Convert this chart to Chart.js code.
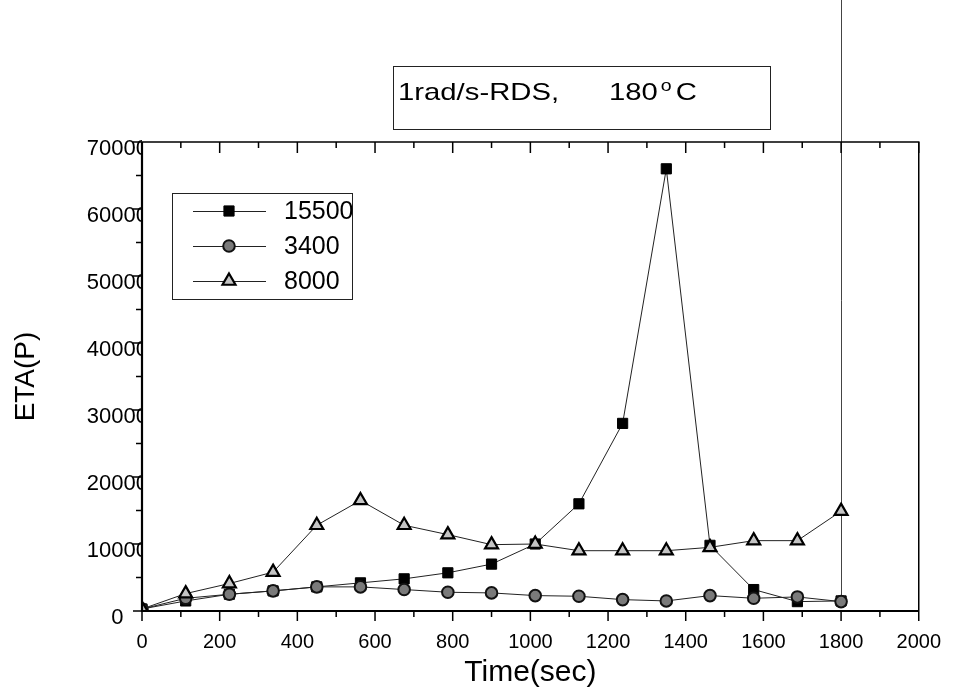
<!DOCTYPE html>
<html><head><meta charset="utf-8">
<script src="https://cdn.jsdelivr.net/npm/chart.js@4/dist/chart.umd.min.js"></script>
<style>html,body{margin:0;padding:0;background:#fff}</style>
</head><body>
<canvas id="c" width="960" height="700"></canvas>
<script>
// ---- data ----
const timeSec  = [0,112.5,225,337.5,450,562.5,675,787.5,900,1012.5,1125,1237.5,1350,1462.5,1575,1687.5,1800];
const eta15500 = [300,1500,2500,3000,3600,4200,4800,5700,7000,10000,16000,28000,66000,9800,3200,1400,1500];
const eta3400  = [300,1900,2500,3000,3600,3600,3200,2800,2700,2300,2200,1700,1500,2300,1900,2100,1400];
const eta8000  = [300,2600,4100,5800,12800,16500,12800,11400,9900,10000,9000,9000,9000,9500,10500,10500,14900];
const seriesNames = ['15500','3400','8000'];
const xTickValues = [0,200,400,600,800,1000,1200,1400,1600,1800,2000];
const yTickValues = [0,10000,20000,30000,40000,50000,60000,70000];
const titleMain = '1rad/s-RDS,';
const titleTemp = '180';
const titleDeg = 'o';
const titleUnit = 'C';
const xTitle = 'Time(sec)';
const yTitle = 'ETA(P)';

const FONT = '"Liberation Sans", Arial, Helvetica, sans-serif';
const pts = (ys) => timeSec.map((t, i) => ({x: t, y: ys[i]}));

const styles = [
  {pointStyle: 'rect', radius: 7.2, backgroundColor: '#000', borderColor: '#000', borderWidth: 1},
  {pointStyle: 'circle', radius: 5.8, backgroundColor: '#7a7a7a', borderColor: '#111', borderWidth: 2},
  {pointStyle: 'triangle', radius: 7.5, backgroundColor: '#c4c4c4', borderColor: '#000', borderWidth: 2.2}
];
const seriesData = [eta15500, eta3400, eta8000];

const datasets = seriesData.map((ys, i) => ({
  label: seriesNames[i],
  data: pts(ys),
  borderColor: '#222',
  borderWidth: 1,
  pointStyle: styles[i].pointStyle,
  pointRadius: styles[i].radius,
  pointBackgroundColor: styles[i].backgroundColor,
  pointBorderColor: styles[i].borderColor,
  pointBorderWidth: styles[i].borderWidth,
  tension: 0,
  order: 3 - i
}));

function drawMarker(ctx, st, x, y) {
  if (Chart.helpers && Chart.helpers.drawPoint) {
    ctx.save();
    ctx.fillStyle = st.backgroundColor;
    ctx.strokeStyle = st.borderColor;
    ctx.lineWidth = st.borderWidth;
    Chart.helpers.drawPoint(ctx, {pointStyle: st.pointStyle, radius: st.radius, rotation: 0, borderWidth: st.borderWidth}, x, y);
    ctx.restore();
  }
}

function stretchedText(ctx, txt, x, y, font, sx) {
  ctx.save();
  ctx.font = font;
  ctx.translate(x, y);
  ctx.scale(sx, 1);
  ctx.fillText(txt, 0, 0);
  const w = ctx.measureText(txt).width * sx;
  ctx.restore();
  return w;
}

const framePlugin = {
  id: 'frame',
  beforeDatasetsDraw(chart) {
    const ctx = chart.ctx, xs = chart.scales.x, ys = chart.scales.y;
    const last = timeSec.length - 1;
    const px = Math.round(xs.getPixelForValue(timeSec[last])) + 0.5;
    const lowest = Math.min(eta15500[last], eta3400[last], eta8000[last]);
    ctx.save();
    ctx.strokeStyle = '#444';
    ctx.lineWidth = 1;
    ctx.beginPath();
    ctx.moveTo(px, 0);
    ctx.lineTo(px, ys.getPixelForValue(lowest));
    ctx.stroke();
    ctx.restore();
  },
  afterDraw(chart) {
    const ctx = chart.ctx, a = chart.chartArea, xs = chart.scales.x, ys = chart.scales.y;
    ctx.save();
    ctx.strokeStyle = '#000';
    // frame
    ctx.lineWidth = 1.5;
    ctx.beginPath();
    ctx.moveTo(a.left, a.top); ctx.lineTo(a.right, a.top); ctx.lineTo(a.right, a.bottom);
    ctx.stroke();
    ctx.lineWidth = 2.2;
    ctx.beginPath();
    ctx.moveTo(a.left, a.top); ctx.lineTo(a.left, a.bottom); ctx.lineTo(a.right, a.bottom);
    ctx.stroke();
    // x ticks
    ctx.lineWidth = 1.5;
    for (let v = 0; v <= 2000; v += 100) {
      const p = xs.getPixelForValue(v);
      const major = v % 200 === 0;
      ctx.beginPath();
      ctx.moveTo(p, a.bottom); ctx.lineTo(p, a.bottom + (major ? 10 : 6));
      ctx.moveTo(p, a.top); ctx.lineTo(p, a.top + (major ? 11 : 6));
      ctx.stroke();
    }
    // y ticks
    for (let v = 0; v <= 70000; v += 5000) {
      const p = ys.getPixelForValue(v);
      const major = v % 10000 === 0;
      ctx.beginPath();
      ctx.moveTo(a.left, p); ctx.lineTo(a.left - (major ? 9 : 6), p);
      ctx.stroke();
    }
    // title box
    ctx.lineWidth = 1;
    ctx.strokeStyle = '#222';
    ctx.fillStyle = '#fff';
    ctx.fillRect(393, 66, 377, 63);
    ctx.strokeRect(393.5, 66.5, 377, 63);
    ctx.fillStyle = '#000';
    ctx.textBaseline = 'alphabetic';
    ctx.textAlign = 'left';
    const sx = 1.22;
    stretchedText(ctx, titleMain, 398, 100, '24px ' + FONT, sx);
    let xx = 609;
    xx += stretchedText(ctx, titleTemp, xx, 100, '24px ' + FONT, sx) + 3;
    xx += stretchedText(ctx, titleDeg, xx, 91, '16px ' + FONT, sx) + 4;
    stretchedText(ctx, titleUnit, xx, 100, '24px ' + FONT, sx);
    // legend
    ctx.fillStyle = '#fff';
    ctx.fillRect(172, 193, 180, 106);
    ctx.strokeStyle = '#222';
    ctx.strokeRect(172.5, 193.5, 180, 106);
    const rowsY = [211, 246, 281];
    for (let i = 0; i < 3; i++) {
      const y = rowsY[i];
      ctx.strokeStyle = '#222';
      ctx.lineWidth = 1;
      ctx.beginPath();
      ctx.moveTo(193, y + 0.5); ctx.lineTo(266, y + 0.5);
      ctx.stroke();
      drawMarker(ctx, styles[i], 229, y);
      ctx.fillStyle = '#000';
      ctx.font = '25px ' + FONT;
      ctx.textBaseline = 'middle';
      ctx.fillText(seriesNames[i], 284, y + 1);
    }
    ctx.restore();
  }
};

new Chart(document.getElementById('c'), {
  type: 'line',
  data: {datasets},
  plugins: [framePlugin],
  options: {
    responsive: false,
    animation: false,
    devicePixelRatio: 1,
    layout: {padding: {left: 0, top: 142, right: 39, bottom: 0}},
    plugins: {legend: {display: false}, tooltip: {enabled: false}, title: {display: false}},
    scales: {
      x: {
        type: 'linear', min: 0, max: 2000,
        grid: {display: false, drawTicks: false},
        border: {display: false},
        afterBuildTicks: (s) => { s.ticks = xTickValues.map(v => ({value: v})); },
        ticks: {color: '#000', font: {family: FONT, size: 20}, padding: 19, maxRotation: 0, autoSkip: false,
                callback: (v) => String(v)},
        title: {display: true, text: xTitle, color: '#000', font: {family: FONT, size: 30}, padding: {top: 0, bottom: 9}},
        afterFit: (s) => { s.height = 89; }
      },
      y: {
        type: 'linear', min: 0, max: 70000,
        grid: {display: false, drawTicks: false},
        border: {display: false},
        afterBuildTicks: (s) => { s.ticks = yTickValues.map(v => ({value: v})); },
        ticks: {color: '#000', font: {family: FONT, size: 22}, padding: -6, labelOffset: 7, autoSkip: false,
                crossAlign: 'center', callback: (v) => String(v)},
        title: {display: true, text: yTitle, color: '#000', font: {family: FONT, size: 28}, padding: {top: 9, bottom: 0}},
        afterFit: (s) => { s.width = 142; }
      }
    }
  }
});
</script>
</body></html>
